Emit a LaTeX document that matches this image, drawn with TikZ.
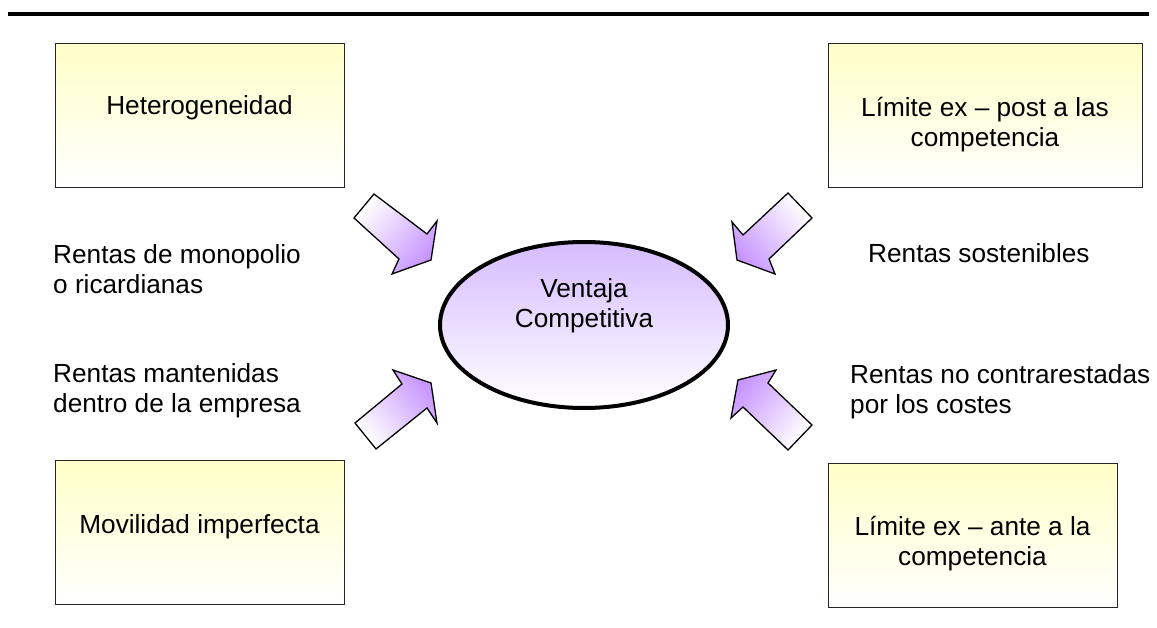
\documentclass[tikz,border=0pt]{standalone}
\usepackage{fontspec}
\setmainfont{Liberation Sans}
\usetikzlibrary{shapes.geometric}

\definecolor{boxyellow}{RGB}{255,255,200}
\definecolor{ovalviolet}{RGB}{214,188,255}
\definecolor{arrowviolet}{RGB}{198,148,255}

\tikzset{
  factorbox/.style={draw=black!85, line width=1.3pt, top color=boxyellow,
    bottom color=white, minimum height=144pt, inner sep=0pt, anchor=north west},
  txt/.style={inner sep=0pt, font=\fontsize{26.2}{30}\selectfont},
  blockarrow/.style={draw=black, line width=1.3pt, line join=miter,
    top color=white, bottom color=arrowviolet},
}

\begin{document}
\begin{tikzpicture}[x=1pt,y=-1pt]
\useasboundingbox (0,0) rectangle (1157,628);

% heading rule
\draw[line width=4pt] (8,14) -- (1149,14);

% the four factor boxes
\node[factorbox, minimum width=289pt] (het)  at (55,43)  {};
\node[factorbox, minimum width=314pt] (post) at (828,43) {};
\node[factorbox, minimum width=289pt] (mov)  at (55,460) {};
\node[factorbox, minimum width=289pt] (ante) at (828,463) {};

\node[txt, anchor=base] (hettxt) at (199.5,115) {Heterogeneidad};
\node[txt, anchor=base] (posttxt) at (985,117)
  {\begin{tabular}[t]{@{}c@{}}Límite ex – post a las\\competencia\end{tabular}};
\node[txt, anchor=base] (movtxt) at (199.5,533) {Movilidad imperfecta};
\node[txt, anchor=base] (antetxt) at (972.5,535)
  {\begin{tabular}[t]{@{}c@{}}Límite ex – ante a la\\competencia\end{tabular}};

% central oval
\node[ellipse, draw=black, line width=4pt, top color=ovalviolet, bottom color=white,
  minimum width=288pt, minimum height=166pt, inner sep=0pt] (ventaja) at (584,325) {};
\node[txt, anchor=base] (ventajatxt) at (584,298)
  {\begin{tabular}[t]{@{}c@{}}Ventaja\\Competitiva\end{tabular}};

% block arrows pointing at the oval
\draw[blockarrow, shading angle=51]
  (354,218) -- (374,194) -- (427,234) -- (437,221) -- (431,260) -- (392,274) -- (399,259) -- cycle;
\draw[blockarrow, shading angle=-51]
  (812,218) -- (788,193) -- (743,235) -- (732,222) -- (737,260) -- (775,274) -- (769,259) -- cycle;
\draw[blockarrow, shading angle=129]
  (355,423) -- (376,449) -- (427,408) -- (437,423) -- (431,383) -- (393,370) -- (402,384) -- cycle;
\draw[blockarrow, shading angle=-129]
  (812,425) -- (788,450) -- (743,407) -- (731,418) -- (738,380) -- (776,370) -- (768,383) -- cycle;

% rent labels
\node[txt, anchor=base west] (monop) at (53,264)
  {\begin{tabular}[t]{@{}l@{}}Rentas de monopolio\\o ricardianas\end{tabular}};
\node[txt, anchor=base west] (mant) at (53,382)
  {\begin{tabular}[t]{@{}l@{}}Rentas mantenidas\\dentro de la empresa\end{tabular}};
\node[txt, anchor=base west] (sost) at (868,263) {Rentas sostenibles};
\node[txt, anchor=base west] (nocontra) at (850,383)
  {\begin{tabular}[t]{@{}l@{}}Rentas no contrarestadas\\por los costes\end{tabular}};
\end{tikzpicture}
\end{document}
